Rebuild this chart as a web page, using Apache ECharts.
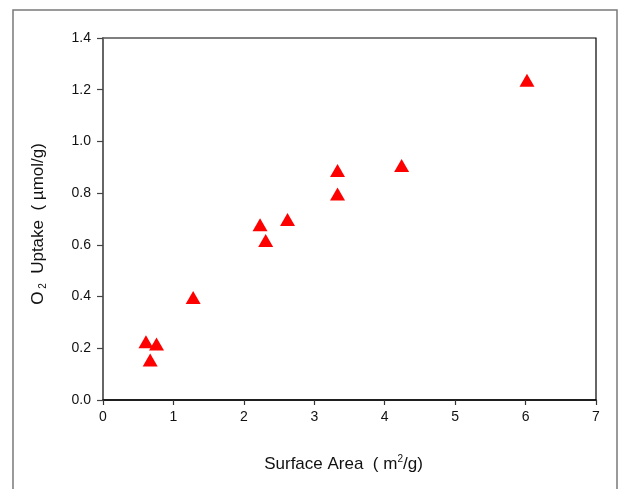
<!DOCTYPE html>
<html>
<head>
<meta charset="utf-8">
<script src="https://cdn.jsdelivr.net/npm/echarts@6/dist/echarts.min.js"></script>
<style>
html,body{margin:0;padding:0;background:#fff;}
#c{width:618px;height:489px;}
</style>
</head>
<body>
<div id="c"></div>
<script>
// Data
var surfaceArea = [0.61, 0.67, 0.76, 1.28, 2.23, 2.31, 2.62, 3.33, 3.33, 4.24, 6.02];
var o2Uptake    = [0.225, 0.155, 0.217, 0.396, 0.678, 0.617, 0.698, 0.888, 0.797, 0.907, 1.237];
var xTicks = [0, 1, 2, 3, 4, 5, 6, 7];
var yTicks = ['0.0', '0.2', '0.4', '0.6', '0.8', '1.0', '1.2', '1.4'];

var points = surfaceArea.map(function (x, i) { return [x, o2Uptake[i]]; });
var FONT = "'Liberation Sans', Arial, sans-serif";

var chart = echarts.init(document.getElementById('c'), null, {renderer: 'canvas'});
chart.setOption({
  animation: false,
  backgroundColor: '#fff',
  graphic: [{
    type: 'rect',
    shape: {x: 13, y: 10, width: 604, height: 500},
    style: {fill: 'none', stroke: '#7a7a7a', lineWidth: 1.5},
    silent: true,
    z: -10
  }],
  grid: {
    left: 103, right: 22, top: 38, bottom: 89,
    show: true, borderColor: '#000', borderWidth: 1.2, backgroundColor: 'transparent'
  },
  xAxis: {
    type: 'value', min: 0, max: 7, interval: 1,
    axisLine: {show: true, onZero: false, lineStyle: {color: '#000', width: 1.5}},
    axisTick: {show: true, inside: false, length: 5, lineStyle: {color: '#333', width: 1.2}},
    splitLine: {show: false},
    axisLabel: {
      margin: 10, fontSize: 14, color: '#111', fontFamily: FONT,
      formatter: function (v) { return xTicks.indexOf(v) >= 0 ? String(v) : ''; }
    },
    name: '{a|Surface Area  ( m}{sup|2}{a|/g)}',
    nameLocation: 'middle',
    nameGap: 54,
    nameTextStyle: {
      padding: [0, 12, 0, 0],
      rich: {
        a: {fontSize: 17, lineHeight: 20, color: '#111', fontFamily: FONT},
        sup: {fontSize: 10, lineHeight: 10, color: '#111', fontFamily: FONT, verticalAlign: 'top'}
      }
    }
  },
  yAxis: {
    type: 'value', min: 0, max: 1.4, interval: 0.2,
    axisLine: {show: true, onZero: false, lineStyle: {color: '#666', width: 2}},
    axisTick: {show: true, inside: false, length: 6, lineStyle: {color: '#444', width: 1.2}},
    splitLine: {show: false},
    axisLabel: {
      margin: 12, fontSize: 14, color: '#111', fontFamily: FONT,
      formatter: function (v) { return yTicks[Math.round(v / 0.2)]; }
    },
    name: '{a|O}{sub| 2}{a|  Uptake  ( \u00B5mol/g)}',
    nameLocation: 'middle',
    nameRotate: 90,
    nameGap: 55,
    nameTextStyle: {
      padding: [0, 10, 0, 0],
      rich: {
        a: {fontSize: 17, lineHeight: 20, color: '#111', fontFamily: FONT},
        sub: {fontSize: 10, lineHeight: 10, color: '#111', fontFamily: FONT, verticalAlign: 'bottom'}
      }
    }
  },
  series: [{
    type: 'scatter',
    data: points,
    symbol: 'triangle',
    symbolSize: [15, 13],
    itemStyle: {color: '#ff0000', opacity: 1}
  }]
});
</script>
</body>
</html>
